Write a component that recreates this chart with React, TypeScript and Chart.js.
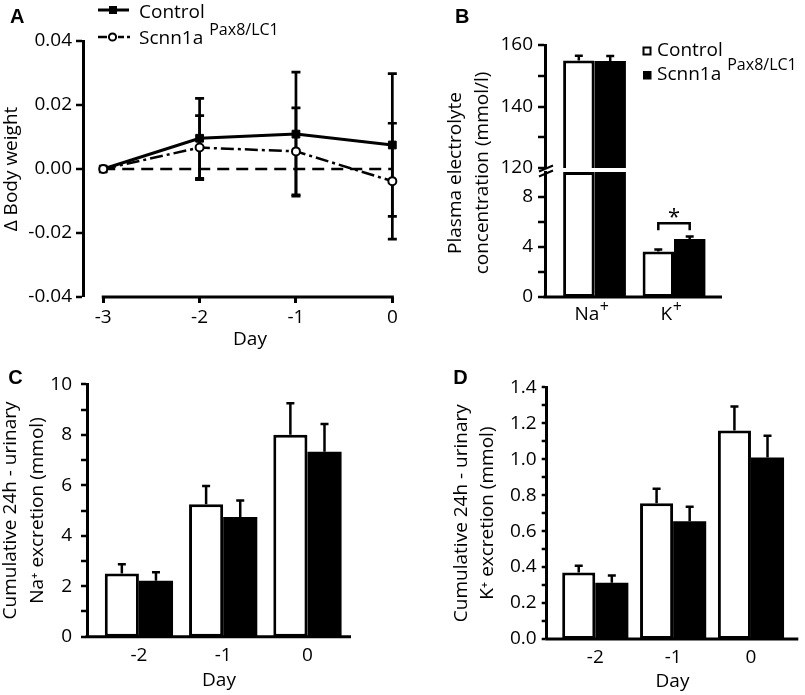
import React, { useEffect, useRef } from 'react';
import { Chart, registerables } from 'chart.js';

Chart.register(...registerables);

const FONT = "'Open Sans', 'Noto Sans', 'DejaVu Sans', sans-serif";
const LABEL_FONT = "'Liberation Sans', Arial, sans-serif";
const W = 805;
const H = 695;
const BLACK = '#000';

Chart.defaults.font.family = FONT;
Chart.defaults.color = BLACK;

// ---------------- Panel A : Δ body weight ----------------
const daysA = [-3, -2, -1, 0];
const controlA = [0, 0.0096, 0.0109, 0.0075];
const controlAErr = [0, 0.0125, 0.0194, 0.0223];
const scnnA = [0, 0.0067, 0.0055, -0.0038];
const scnnAErr = [0, 0.01, 0.0136, 0.0181];
const zeroA = [0, 0, 0, 0];
const yTicksA = [-0.04, -0.02, 0, 0.02, 0.04];

// ---------------- Panel B : plasma electrolytes ----------------
const ionsB = ['Na', 'K'];
const ionChargeB = ['+', '+'];
const ionPosB = [0, 1];
const controlB = [155.0, 3.65];
const controlBErr = [1.5, 0.15];
const scnnB = [154.8, 4.65];
const scnnBErr = [1.6, 0.2];
const upperRangeB = [120, 160];
const upperTicksB = [120, 130, 140, 150, 160];
const upperLabelsB = [120, 140, 160];
const lowerRangeB = [0, 10];
const lowerTicksB = [0, 2, 4, 6, 8];
const lowerLabelsB = [0, 4, 8];
const sigBracketB = 5.9;

// ---------------- Panel C : cumulative Na+ excretion ----------------
const daysCD = [-2, -1, 0];
const controlC = [2.5, 5.25, 8.0];
const controlCErr = [0.37, 0.72, 1.25];
const scnnC = [2.22, 4.74, 7.33];
const scnnCErr = [0.33, 0.66, 1.1];
const yTicksC = [0, 1, 2, 3, 4, 5, 6, 7, 8, 9, 10];
const yLabelsC = [0, 2, 4, 6, 8, 10];

// ---------------- Panel D : cumulative K+ excretion ----------------
const controlD = [0.37, 0.755, 1.16];
const controlDErr = [0.037, 0.081, 0.133];
const scnnD = [0.313, 0.655, 1.01];
const scnnDErr = [0.04, 0.081, 0.12];
const yTicksD = [0, 0.1, 0.2, 0.3, 0.4, 0.5, 0.6, 0.7, 0.8, 0.9, 1.0, 1.1, 1.2, 1.3, 1.4];
const yLabelsD = [0, 0.2, 0.4, 0.6, 0.8, 1.0, 1.2, 1.4];

// ------------------------------------------------------------------
const tickFont = { family: FONT, size: 19 };

function pad(left: number, top: number, right: number, bottom: number, yW: number, xH: number) {
  return { left: left - yW, top, right: W - right, bottom: H - bottom - xH };
}

function yAxis(o: any) {
  return {
    type: 'linear',
    position: 'left',
    min: o.min,
    max: o.max,
    bounds: 'data',
    afterBuildTicks: (s: any) => {
      s.ticks = o.ticks.map((v: number) => ({ value: v }));
    },
    afterFit: (s: any) => {
      s.width = o.width;
    },
    ticks: {
      autoSkip: false,
      padding: o.pad,
      color: BLACK,
      font: tickFont,
      callback: (v: number) => (o.labels.some((l: number) => Math.abs(l - v) < 1e-9) ? o.fmt(v) : ''),
    },
    grid: {
      display: true,
      drawOnChartArea: false,
      drawTicks: true,
      tickLength: o.tickLen,
      color: BLACK,
      lineWidth: 0,
      tickWidth: 2.5,
      tickColor: BLACK,
    },
    border: { display: true, color: BLACK, width: 3 },
    title: o.title
      ? {
          display: true,
          text: o.title,
          color: BLACK,
          font: { family: FONT, size: 19, lineHeight: o.titleLH },
          padding: { top: o.titlePad, bottom: 0 },
        }
      : { display: false },
  };
}

function xAxis(o: any) {
  return {
    type: 'linear',
    position: 'bottom',
    min: o.min,
    max: o.max,
    bounds: 'data',
    offset: false,
    display: o.display !== false,
    afterBuildTicks: (s: any) => {
      s.ticks = o.ticks.map((v: number) => ({ value: v }));
    },
    afterFit: (s: any) => {
      if (o.height) s.height = o.height;
    },
    ticks: {
      display: o.showLabels !== false,
      autoSkip: false,
      maxRotation: 0,
      minRotation: 0,
      padding: o.pad,
      color: BLACK,
      font: tickFont,
      callback: (v: number) => (o.labels ? o.labels[o.ticks.indexOf(v)] : ''),
    },
    grid: o.tickLen
      ? { display: true, offset: false, drawOnChartArea: false, drawTicks: true, tickLength: o.tickLen, color: BLACK, lineWidth: 3 }
      : { display: false, offset: false, drawTicks: false, tickLength: 0 },
    border: { display: false },
    title: o.title
      ? { display: true, text: o.title, color: BLACK, font: { family: FONT, size: 19, lineHeight: 1.2 }, padding: { top: 0, bottom: 0 } }
      : { display: false },
  };
}

// x-axis baseline drawn at the value scale's minimum, across the plot (or between given x values)
function baseAxis(from?: number, to?: number) {
  return {
    id: 'baseAxis',
    afterDatasetsDraw(chart: any) {
      const ctx = chart.ctx;
      const ca = chart.chartArea;
      const ys = chart.scales.y;
      const xs = chart.scales.x;
      const y0 = ys.getPixelForValue(ys.min);
      const x0 = from === undefined ? ca.left - 1.5 : xs.getPixelForValue(from) - 1.5;
      const x1 = to === undefined ? ca.right : xs.getPixelForValue(to) + 1.5;
      ctx.save();
      ctx.strokeStyle = BLACK;
      ctx.lineWidth = 3;
      ctx.setLineDash([]);
      ctx.beginPath();
      ctx.moveTo(x0, y0);
      ctx.lineTo(x1, y0);
      ctx.stroke();
      ctx.restore();
    },
  };
}

function errorBars(specs: { ds: number; err: number[]; down: boolean }[], cap: number, lw: number) {
  return {
    id: 'errorBars',
    beforeDatasetsDraw(chart: any) {
      const ctx = chart.ctx;
      const ys = chart.scales.y;
      ctx.save();
      ctx.strokeStyle = BLACK;
      ctx.lineWidth = lw;
      ctx.setLineDash([]);
      specs.forEach((s) => {
        const meta = chart.getDatasetMeta(s.ds);
        const data = chart.data.datasets[s.ds].data;
        meta.data.forEach((el: any, i: number) => {
          const p = data[i];
          if (!p || p.y == null) return;
          const e = s.err[i];
          if (!e) return;
          const top = ys.getPixelForValue(p.y + e);
          const bot = s.down ? ys.getPixelForValue(p.y - e) : ys.getPixelForValue(p.y);
          ctx.beginPath();
          ctx.moveTo(el.x, bot);
          ctx.lineTo(el.x, top);
          ctx.moveTo(el.x - cap / 2, top);
          ctx.lineTo(el.x + cap / 2, top);
          if (s.down) {
            ctx.moveTo(el.x - cap / 2, bot);
            ctx.lineTo(el.x + cap / 2, bot);
          }
          ctx.stroke();
        });
      });
      ctx.restore();
    },
  };
}

function panelLabel(ctx: any, text: string, x: number, y: number) {
  ctx.save();
  ctx.fillStyle = BLACK;
  ctx.font = `bold 20px ${LABEL_FONT}`;
  ctx.textAlign = 'left';
  ctx.textBaseline = 'alphabetic';
  ctx.fillText(text, x, y);
  ctx.restore();
}

function superText(ctx: any, main: string, sup: string, x: number, y: number, supY: number) {
  ctx.font = `19px ${FONT}`;
  ctx.fillText(main, x, y);
  const w = ctx.measureText(main).width;
  ctx.font = `16px ${FONT}`;
  ctx.fillText(sup, x + w + 6, supY);
}

const baseOptions = {
  responsive: false,
  animation: false,
  devicePixelRatio: 1,
  events: [],
  plugins: { legend: { display: false }, tooltip: { enabled: false }, title: { display: false } },
};

const pts = (xs: number[], ys: (number | null)[]) => xs.map((x, i) => ({ x, y: ys[i] }));

// ---------------- Chart factories ----------------
function makeA(canvas: HTMLCanvasElement) {
  const legendA = {
    id: 'legendA',
    afterDraw(chart: any) {
      const ctx = chart.ctx;
      ctx.save();
      ctx.strokeStyle = BLACK;
      ctx.lineWidth = 3;
      // legend: control
      ctx.beginPath();
      ctx.moveTo(98, 10);
      ctx.lineTo(129, 10);
      ctx.stroke();
      ctx.fillStyle = BLACK;
      ctx.fillRect(109, 6, 8, 8);
      // legend: scnn (dash-dot)
      ctx.lineWidth = 2.5;
      ctx.beginPath();
      ctx.moveTo(98, 37);
      ctx.lineTo(107, 37);
      ctx.moveTo(118, 37);
      ctx.lineTo(124, 37);
      ctx.moveTo(127, 37);
      ctx.lineTo(130, 37);
      ctx.stroke();
      ctx.beginPath();
      ctx.arc(112.5, 37, 3.6, 0, Math.PI * 2);
      ctx.fillStyle = '#fff';
      ctx.fill();
      ctx.lineWidth = 2;
      ctx.stroke();
      ctx.fillStyle = BLACK;
      ctx.textAlign = 'left';
      ctx.textBaseline = 'alphabetic';
      ctx.font = `19px ${FONT}`;
      ctx.fillText('Control', 139, 17.5);
      superText(ctx, 'Scnn1a', 'Pax8/LC1', 139, 43.5, 35);
      ctx.restore();
      panelLabel(ctx, 'A', 10, 23.3);
    },
  };
  return new Chart(canvas, {
    type: 'line',
    data: {
      datasets: [
        {
          label: 'Scnn1a Pax8/LC1',
          data: pts(daysA, scnnA),
          borderColor: BLACK,
          borderWidth: 2.5,
          borderDash: [13, 4, 3, 4],
          tension: 0,
          pointStyle: 'circle',
          pointRadius: 4,
          pointBorderWidth: 2,
          pointBackgroundColor: '#fff',
          pointBorderColor: BLACK,
        },
        {
          label: 'Control',
          data: pts(daysA, controlA),
          borderColor: BLACK,
          borderWidth: 3,
          tension: 0,
          pointStyle: 'rect',
          pointRadius: 5.5,
          pointBorderWidth: 1,
          pointBackgroundColor: BLACK,
          pointBorderColor: BLACK,
        },
        {
          label: 'zero',
          data: pts(daysA, zeroA),
          borderColor: BLACK,
          borderWidth: 2.5,
          borderDash: [12, 7],
          tension: 0,
          pointRadius: 0,
        },
      ],
    } as any,
    options: {
      ...baseOptions,
      layout: { padding: pad(83, 41, 417, 297, 83, 54.4) },
      scales: {
        x: xAxis({ min: -3.21, max: 0.256, ticks: daysA, labels: daysA.map(String), pad: 3, height: 54.4, title: 'Day', tickLen: 6 }),
        y: yAxis({
          min: -0.04,
          max: 0.04,
          ticks: yTicksA,
          labels: yTicksA,
          fmt: (v: number) => v.toFixed(2),
          width: 83,
          pad: 4,
          tickLen: 7,
          title: 'Δ Body weight',
          titleLH: 1.2,
          titlePad: 0.6,
        }),
      },
    } as any,
    plugins: [
      errorBars(
        [
          { ds: 0, err: scnnAErr, down: true },
          { ds: 1, err: controlAErr, down: true },
        ],
        9,
        2.7
      ),
      baseAxis(daysA[0], daysA[daysA.length - 1]),
      legendA,
    ],
  });
}

const xRangeB = { min: -0.623, max: 1.604 };

function barSets(xs: number[], c: (number | null)[], s: (number | null)[], catPct: number) {
  const common = { borderColor: BLACK, borderSkipped: false, categoryPercentage: catPct, barPercentage: 1 };
  return [
    { label: 'Control', data: pts(xs, c), backgroundColor: '#fff', borderWidth: 3, ...common },
    { label: 'Scnn1a Pax8/LC1', data: pts(xs, s), backgroundColor: BLACK, borderWidth: 0, ...common },
  ];
}

function makeBUpper(canvas: HTMLCanvasElement) {
  const inUpper = (v: number) => (v >= upperRangeB[0] ? v : null);
  const legendB = {
    id: 'legendB',
    afterDraw(chart: any) {
      const ctx = chart.ctx;
      ctx.save();
      ctx.strokeStyle = BLACK;
      ctx.fillStyle = BLACK;
      ctx.lineWidth = 2;
      ctx.strokeRect(643.5, 47.5, 7, 7);
      ctx.fillRect(643, 71, 8.5, 8.5);
      ctx.textAlign = 'left';
      ctx.textBaseline = 'alphabetic';
      ctx.font = `19px ${FONT}`;
      ctx.fillText('Control', 657, 56);
      superText(ctx, 'Scnn1a', 'Pax8/LC1', 657, 80, 70);
      ctx.restore();
      panelLabel(ctx, 'B', 455, 23.3);
    },
  };
  return new Chart(canvas, {
    type: 'bar',
    data: { datasets: barSets(ionPosB, controlB.map(inUpper), scnnB.map(inUpper), 0.79) } as any,
    options: {
      ...baseOptions,
      layout: { padding: pad(545, 45, 722, 168, 60, 0) },
      scales: {
        x: xAxis({ ...xRangeB, ticks: ionPosB, pad: 4, display: false, showLabels: false }),
        y: yAxis({
          min: upperRangeB[0],
          max: upperRangeB[1],
          ticks: upperTicksB,
          labels: upperLabelsB,
          fmt: (v: number) => String(v),
          width: 60,
          pad: 5,
          tickLen: 7,
        }),
      },
    } as any,
    plugins: [
      errorBars(
        [
          { ds: 0, err: controlBErr, down: false },
          { ds: 1, err: scnnBErr, down: false },
        ],
        8,
        2.5
      ),
      legendB,
    ],
  });
}

function makeBLower(canvas: HTMLCanvasElement) {
  const clampLower = (v: number) => Math.min(v, lowerRangeB[1]);
  const errLower = (vals: number[], errs: number[]) => errs.map((e, i) => (vals[i] <= lowerRangeB[1] ? e : 0));
  const extras = {
    id: 'extrasB',
    afterDraw(chart: any) {
      const ctx = chart.ctx;
      const ys = chart.scales.y;
      const xs = chart.scales.x;
      ctx.save();
      ctx.fillStyle = BLACK;
      ctx.strokeStyle = BLACK;
      // category labels with superscript charge, at the scale's tick positions
      ctx.textAlign = 'left';
      ctx.textBaseline = 'alphabetic';
      ionsB.forEach((name, i) => {
        const px = xs.getPixelForValue(ionPosB[i]);
        ctx.font = `19px ${FONT}`;
        const w1 = ctx.measureText(name).width;
        ctx.font = `16px ${FONT}`;
        const w2 = ctx.measureText(ionChargeB[i]).width;
        const x0 = px - (w1 + w2) / 2 - 3;
        ctx.font = `19px ${FONT}`;
        ctx.fillText(name, x0, 320);
        ctx.font = `16px ${FONT}`;
        ctx.fillText(ionChargeB[i], x0 + w1 + 0.5, 312);
      });
      // y title (spans both segments)
      ctx.font = `19px ${FONT}`;
      ctx.textAlign = 'center';
      ctx.textBaseline = 'middle';
      [
        ['Plasma electrolyte', 455.5],
        ['concentration (mmol/l)', 482.5],
      ].forEach(([t, x]: any) => {
        ctx.save();
        ctx.translate(x, 173);
        ctx.rotate(-Math.PI / 2);
        ctx.fillText(t, 0, 0);
        ctx.restore();
      });
      // axis break marks
      ctx.lineWidth = 2;
      ctx.beginPath();
      ctx.moveTo(539, 171.5);
      ctx.lineTo(553, 165.5);
      ctx.moveTo(539, 176.5);
      ctx.lineTo(553, 170.5);
      ctx.stroke();
      // significance bracket on K+
      const x0 = chart.getDatasetMeta(0).data[1].x;
      const x1 = chart.getDatasetMeta(1).data[1].x;
      const yb = ys.getPixelForValue(sigBracketB);
      ctx.lineWidth = 2.5;
      ctx.beginPath();
      ctx.moveTo(x0, yb + 7);
      ctx.lineTo(x0, yb);
      ctx.lineTo(x1, yb);
      ctx.lineTo(x1, yb + 7);
      ctx.stroke();
      ctx.font = `22px ${FONT}`;
      ctx.textBaseline = 'alphabetic';
      ctx.fillText('*', (x0 + x1) / 2, yb + 1);
      ctx.restore();
    },
  };
  return new Chart(canvas, {
    type: 'bar',
    data: { datasets: barSets(ionPosB, controlB.map(clampLower), scnnB.map(clampLower), 0.79) } as any,
    options: {
      ...baseOptions,
      layout: { padding: pad(545, 172, 722, 297, 60, 40) },
      scales: {
        x: xAxis({ ...xRangeB, ticks: ionPosB, pad: 4.6, height: 40, showLabels: false }),
        y: yAxis({
          min: lowerRangeB[0],
          max: lowerRangeB[1],
          ticks: lowerTicksB,
          labels: lowerLabelsB,
          fmt: (v: number) => String(v),
          width: 60,
          pad: 5,
          tickLen: 7,
        }),
      },
    } as any,
    plugins: [
      errorBars(
        [
          { ds: 0, err: errLower(controlB, controlBErr), down: false },
          { ds: 1, err: errLower(scnnB, scnnBErr), down: false },
        ],
        8,
        2.5
      ),
      baseAxis(),
      extras,
    ],
  });
}

function makeC(canvas: HTMLCanvasElement) {
  return new Chart(canvas, {
    type: 'bar',
    data: { datasets: barSets(daysCD, controlC, scnnC, 0.81) } as any,
    options: {
      ...baseOptions,
      layout: { padding: pad(87, 384.3, 351, 636.7, 87, 55) },
      scales: {
        x: xAxis({ min: -2.616, max: 0.517, ticks: daysCD, labels: daysCD.map(String), pad: 7, height: 55, title: 'Day' }),
        y: yAxis({
          min: 0,
          max: 10,
          ticks: yTicksC,
          labels: yLabelsC,
          fmt: (v: number) => String(v),
          width: 87,
          pad: 9,
          tickLen: 6,
          title: ['Cumulative 24h - urinary', 'Na⁺ excretion (mmol)'],
          titleLH: 1.395,
          titlePad: -2.2,
        }),
      },
    } as any,
    plugins: [
      errorBars(
        [
          { ds: 0, err: controlCErr, down: false },
          { ds: 1, err: scnnCErr, down: false },
        ],
        8,
        2.5
      ),
      baseAxis(),
      { id: 'labelC', afterDraw: (chart: any) => panelLabel(chart.ctx, 'C', 8.3, 384) },
    ],
  });
}

function makeD(canvas: HTMLCanvasElement) {
  return new Chart(canvas, {
    type: 'bar',
    data: { datasets: barSets(daysCD, controlD, scnnD, 0.85) } as any,
    options: {
      ...baseOptions,
      layout: { padding: pad(546.7, 387.3, 798.3, 639, 98.15, 54.2) },
      scales: {
        x: xAxis({ min: -2.624, max: 0.608, ticks: daysCD, labels: daysCD.map(String), pad: 7.3, height: 54.2, title: 'Day' }),
        y: yAxis({
          min: 0,
          max: 1.4,
          ticks: yTicksD,
          labels: yLabelsD,
          fmt: (v: number) => v.toFixed(1),
          width: 98.15,
          pad: 5,
          tickLen: 5,
          title: ['Cumulative 24h - urinary', 'K⁺ excretion (mmol)'],
          titleLH: 1.384,
          titlePad: 0,
        }),
      },
    } as any,
    plugins: [
      errorBars(
        [
          { ds: 0, err: controlDErr, down: false },
          { ds: 1, err: scnnDErr, down: false },
        ],
        8,
        2.5
      ),
      baseAxis(),
      { id: 'labelD', afterDraw: (chart: any) => panelLabel(chart.ctx, 'D', 453.3, 384) },
    ],
  });
}

function ChartLayer({ make }: { make: (c: HTMLCanvasElement) => Chart }) {
  const ref = useRef<HTMLCanvasElement>(null);
  useEffect(() => {
    const chart = make(ref.current as HTMLCanvasElement);
    return () => chart.destroy();
  }, [make]);
  return (
    <canvas
      ref={ref}
      width={W}
      height={H}
      style={{ position: 'absolute', left: 0, top: 0, width: W, height: H, pointerEvents: 'none' }}
    />
  );
}

export default function App() {
  return (
    <div style={{ position: 'absolute', left: 0, top: 0, width: W, height: H, background: '#fff', overflow: 'hidden' }}>
      <ChartLayer make={makeA} />
      <ChartLayer make={makeBUpper} />
      <ChartLayer make={makeBLower} />
      <ChartLayer make={makeC} />
      <ChartLayer make={makeD} />
    </div>
  );
}
